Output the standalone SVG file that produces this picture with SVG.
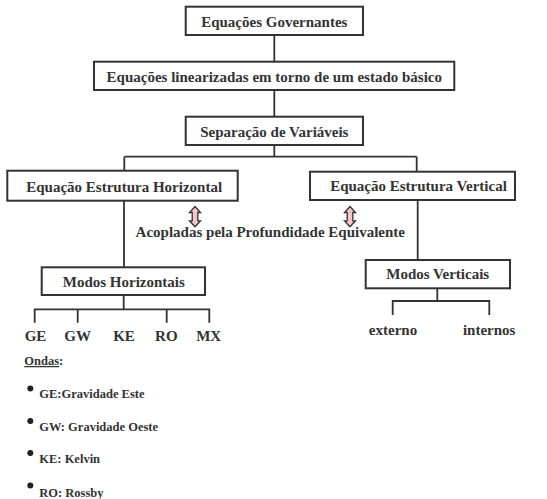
<svg xmlns="http://www.w3.org/2000/svg" width="547" height="499" viewBox="0 0 547 499">
<style>
.box{fill:#fff;stroke:#333;stroke-width:2}
.t{font-family:'Liberation Serif','DejaVu Serif',serif;font-weight:bold;font-size:15px;fill:#333;text-anchor:middle}
.s{font-family:'Liberation Serif','DejaVu Serif',serif;font-weight:bold;font-size:12.5px;fill:#333}
.c{fill:none;stroke:#333;stroke-width:1.8}
.arr{fill:#f6c6c6;stroke:#333;stroke-width:1.3;stroke-linejoin:miter}
</style>
<rect width="547" height="499" fill="#fff"/>
<g id="connectors">
<path class="c" d="M274.3 35V62M274.3 90V117M274.3 145V156.7M124.3 156.7H416.7M124.3 156.7V171M416.7 156.7V172"/>
<path class="c" d="M124 200.7V267.3M417.7 200V260"/>
<path class="c" d="M123.7 295V309.3M34.7 322.7V309.3H209.3V322.7M77.7 309.3V322.7M166.7 309.3V322.7"/>
<path class="c" d="M437.3 288.3V301M392.7 315V301H489.3V315"/>
</g>
<g id="n1"><rect class="box" x="185.7" y="6.7" width="177.3" height="28.3"/><text class="t" x="274.3" y="26.5">Equações Governantes</text></g>
<g id="n2"><rect class="box" x="94" y="61.7" width="360.3" height="28.3"/><text class="t" x="274.3" y="81.5">Equações linearizadas em torno de um estado básico</text></g>
<g id="n3"><rect class="box" x="185.7" y="116.7" width="177.3" height="28.3"/><text class="t" x="274.3" y="136.8">Separação de Variáveis</text></g>
<g id="n4"><rect class="box" x="7.3" y="170.7" width="230.4" height="30"/><text class="t" x="124.2" y="191.5">Equação Estrutura Horizontal</text></g>
<g id="n5"><rect class="box" x="310" y="171.7" width="205" height="28.3"/><text class="t" x="418.5" y="191">Equação Estrutura Vertical</text></g>
<g id="n6"><rect class="box" x="41.7" y="267.3" width="163.3" height="27.7"/><text class="t" x="123.8" y="286.5">Modos Horizontais</text></g>
<g id="n7"><rect class="box" x="365.7" y="260" width="144.3" height="28.3"/><text class="t" x="437.7" y="279.3">Modos Verticais</text></g>
<g id="arrows">
<path class="arr" d="M195 206.5L200.5 212.5H197.8V220.8H200.5L195 226.8L189.5 220.8H192.2V212.5H189.5Z"/>
<path class="arr" d="M350 206.5L355.5 212.5H352.8V220.8H355.5L350 226.8L344.5 220.8H347.2V212.5H344.5Z"/>
</g>
<g id="labels">
<text class="t" x="270.3" y="237.3">Acopladas pela Profundidade Equivalente</text>
<text class="t" x="35.5" y="341">GE</text>
<text class="t" x="77.7" y="341">GW</text>
<text class="t" x="124" y="341">KE</text>
<text class="t" x="166.3" y="341">RO</text>
<text class="t" x="208.7" y="341">MX</text>
<text class="t" x="393" y="335">externo</text>
<text class="t" x="489.2" y="335">internos</text>
</g>
<g id="legend">
<text class="s" x="24.3" y="365" font-size="12px"><tspan text-decoration="underline">Ondas</tspan>:</text>
<circle cx="30.3" cy="388.5" r="3" fill="#222"/>
<text class="s" x="39.3" y="398.3">GE:Gravidade Este</text>
<circle cx="30.3" cy="421" r="3" fill="#222"/>
<text class="s" x="39.3" y="431.3">GW: Gravidade Oeste</text>
<circle cx="30.3" cy="453" r="3" fill="#222"/>
<text class="s" x="39.3" y="463.3">KE: Kelvin</text>
<circle cx="30.3" cy="485.5" r="3" fill="#222"/>
<text class="s" x="39.3" y="496.5">RO: Rossby</text>
</g>
</svg>
